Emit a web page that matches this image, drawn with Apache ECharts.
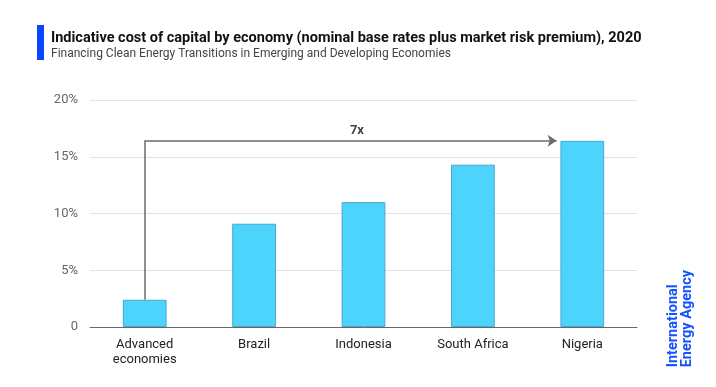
<!DOCTYPE html>
<html><head><meta charset="utf-8">
<script src="https://cdn.jsdelivr.net/npm/echarts@6/dist/echarts.min.js"></script>
<style>html,body{margin:0;padding:0;background:#fff}#c{width:716px;height:387px}</style>
</head><body><div id="c"></div>
<script>
const categories = ['Advanced\neconomies', 'Brazil', 'Indonesia', 'South Africa', 'Nigeria'];
const costOfCapital = [2.4, 9.1, 11.0, 14.3, 16.4];
const yTicks = [0, 5, 10, 15, 20];
const multipleLabel = '7x';

const chart = echarts.init(document.getElementById('c'));
const FONT = 'Roboto';
const lastIdx = costOfCapital.length - 1;
const maxVal = costOfCapital[lastIdx];
chart.setOption({
  animation: false,
  textStyle: { fontFamily: FONT },
  title: [{
    text: 'Indicative cost of capital by economy (nominal base rates plus market risk premium), 2020',
    left: 46, top: 26,
    textStyle: { fontSize: 14.5, fontWeight: 'bold', color: '#111', fontFamily: FONT }
  }, {
    text: 'Financing Clean Energy Transitions in Emerging and Developing Economies',
    left: 46, top: 43,
    textStyle: { fontSize: 12, fontWeight: 'normal', color: '#444', fontFamily: FONT }
  }],
  graphic: [
    { type: 'rect', left: 37, top: 25, shape: { width: 7, height: 35 }, style: { fill: '#0a46ff' } },
    { type: 'text', left: 666, top: 270, rotation: Math.PI / 2,
      style: { text: 'International\nEnergy Agency', fill: '#1452ff', font: 'bold 14.5px ' + FONT, lineHeight: 14 } }
  ],
  grid: { left: 90, right: 79, top: 100, bottom: 60 },
  xAxis: [{
    type: 'category', data: categories,
    axisLine: { lineStyle: { color: '#666' } },
    axisTick: { show: false },
    axisLabel: { color: '#222', fontSize: 13, margin: 10, lineHeight: 15 }
  }, {
    type: 'value', min: -0.5, max: categories.length - 0.5, show: false
  }],
  yAxis: {
    type: 'value', min: yTicks[0], max: yTicks[yTicks.length - 1], interval: 5,
    axisLine: { show: false }, axisTick: { show: false },
    axisLabel: { color: '#666', fontSize: 13, margin: 12,
      formatter: v => v === 0 ? '0' : v + '%' },
    splitLine: { lineStyle: { color: '#e2e2e2' } }
  },
  series: [
    { type: 'bar', data: costOfCapital, barWidth: '40%',
      itemStyle: { color: '#4dd4fd', borderColor: '#45a9cc', borderWidth: 1 } },
    { type: 'lines', coordinateSystem: 'cartesian2d', xAxisIndex: 1, z: 5,
      symbol: 'none',
      lineStyle: { color: '#6b6b6b', width: 1.5, opacity: 1 },
      data: [{ coords: [[0, costOfCapital[0]], [0, maxVal + 0.035]] }]
    },
    { type: 'lines', coordinateSystem: 'cartesian2d', xAxisIndex: 1, z: 5,
      symbol: ['none', 'arrow'], symbolSize: 9,
      lineStyle: { color: '#6b6b6b', width: 1.5, opacity: 1 },
      data: [{ coords: [[0, maxVal], [lastIdx - 0.235, maxVal]] }]
    },
    { type: 'scatter', xAxisIndex: 1, symbolSize: 0, z: 6,
      data: [[1.94, maxVal]],
      label: { show: true, position: 'top', distance: 4, formatter: multipleLabel,
        fontSize: 13, fontWeight: 'bold', color: '#111' } }
  ]
});
</script></body></html>
